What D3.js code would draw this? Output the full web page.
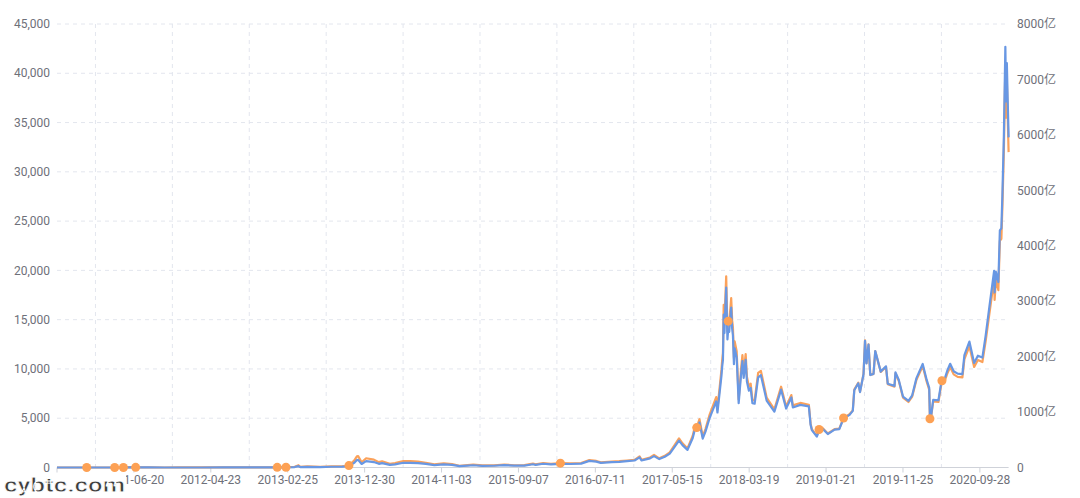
<!DOCTYPE html>
<html><head><meta charset="utf-8">
<script src="https://cdn.jsdelivr.net/npm/d3@7/dist/d3.min.js"></script>
<style>body{margin:0;background:#fff}svg{display:block}text{font-family:Roboto,"Noto Sans CJK SC",sans-serif}</style>
</head><body><svg id="c" width="1080" height="498"></svg>
<script>
// ---- data ----
const dates = ["2010-08-16","2010-10-15","2010-12-13","2011-02-14","2011-04-04","2011-05-09","2011-06-08","2011-06-27","2011-08-15","2011-10-20","2011-12-15","2012-03-15","2012-06-15","2012-08-16","2012-10-15","2012-12-15","2013-01-14","2013-02-18","2013-03-25","2013-04-09","2013-04-16","2013-05-15","2013-07-05","2013-08-20","2013-10-01","2013-10-28","2013-11-18","2013-11-29","2013-12-04","2013-12-18","2014-01-05","2014-02-05","2014-02-25","2014-03-10","2014-04-10","2014-05-01","2014-06-03","2014-07-01","2014-08-01","2014-09-01","2014-10-05","2014-11-12","2014-12-15","2015-01-14","2015-02-15","2015-03-10","2015-04-15","2015-06-01","2015-07-12","2015-08-20","2015-10-01","2015-11-04","2015-11-15","2015-12-15","2016-01-15","2016-02-22","2016-04-01","2016-05-15","2016-06-17","2016-07-15","2016-08-02","2016-09-15","2016-10-15","2016-11-15","2016-12-15","2017-01-04","2017-01-12","2017-02-15","2017-03-03","2017-03-24","2017-04-15","2017-05-05","2017-05-25","2017-06-11","2017-06-25","2017-07-15","2017-08-05","2017-08-15","2017-08-21","2017-09-01","2017-09-14","2017-09-25","2017-10-12","2017-10-21","2017-11-07","2017-11-12","2017-11-28",
"2017-12-01","2017-12-04","2017-12-07","2017-12-10","2017-12-13","2017-12-17","2017-12-22","2017-12-25","2017-12-29","2018-01-06","2018-01-10","2018-01-13","2018-01-17","2018-01-20","2018-01-28","2018-02-05","2018-02-10","2018-02-15","2018-02-20","2018-02-25","2018-03-05","2018-03-10","2018-03-18","2018-03-25",
"2018-04-01","2018-04-10","2018-04-24","2018-05-05","2018-05-28","2018-06-28","2018-07-25","2018-08-14","2018-09-04","2018-09-10","2018-10-10","2018-11-13","2018-11-20","2018-11-25","2018-12-15","2018-12-24","2019-01-07","2019-01-28","2019-02-24","2019-03-15","2019-04-01","2019-04-25","2019-05-08","2019-05-14","2019-05-30","2019-06-06","2019-06-20","2019-06-26","2019-07-02","2019-07-10","2019-07-17","2019-07-30","2019-08-06","2019-08-28","2019-09-18","2019-09-25","2019-10-22","2019-10-26","2019-11-08","2019-11-25","2019-12-17","2020-01-01","2020-01-18","2020-02-12","2020-02-28","2020-03-09","2020-03-12","2020-03-16","2020-03-25","2020-04-15","2020-04-29","2020-05-10","2020-05-20","2020-06-01","2020-06-15","2020-07-01","2020-07-20","2020-07-28","2020-08-17","2020-09-05","2020-09-20","2020-10-08","2020-10-21","2020-11-05","2020-11-24","2020-11-26","2020-12-01","2020-12-11","2020-12-17","2020-12-23","2020-12-27","2021-01-02","2021-01-08","2021-01-11","2021-01-14","2021-01-17","2021-01-21"];
// price, USD (left axis)
const price = [0.07,0.1,0.25,1.0,0.78,3.8,29.6,16.8,11,2.5,3.2,5,6.5,13.5,11.5,13.5,14.5,26,75,230,70,115,70,120,128,195,700,1130,1150,530,940,800,540,630,380,450,660,640,590,480,320,420,350,180,250,290,220,225,305,230,238,400,320,455,375,440,415,455,760,665,520,610,640,710,780,1130,780,1010,1270,930,1180,1530,2300,2960,2450,1930,3230,4300,4050,4900,3150,3900,5400,6000,7150,5950,9900,
10900,11600,16500,14500,16800,19400,13800,14850,14600,17200,14900,14200,11100,12800,11800,6900,8500,10100,11400,9600,11500,9200,8200,8500,
6850,6800,9600,9800,7100,5900,8200,6200,7350,6300,6550,6370,4450,3900,3200,3850,4000,3450,3900,3950,5020,5400,5800,7900,8600,7700,9500,12900,10600,12500,9400,9500,11800,9700,10200,8450,8200,9550,8800,7100,6650,7200,8900,10300,8700,7900,4950,5000,6700,6650,8800,8750,9500,10200,9450,9200,9150,11000,12300,10200,10900,10700,12800,15600,19100,17000,19000,18000,23000,23200,26300,32100,40800,35500,39200,36000,32000];
// market cap, 亿 (right axis)
const cap = [0.003,0.004,0.012,0.05,0.045,0.23,1.9,1.1,0.75,0.19,0.26,0.43,0.6,1.3,1.16,1.43,1.55,2.8,8.2,25.4,7.7,12.8,7.9,13.8,14.9,22.9,83,134,138,64,114,98,66.5,78,47.5,57,85,83,77.5,64,43,57,47.6,24.6,34.5,40.3,30.8,31.8,43.5,33,34.6,58.6,47,67.8,56.2,66.5,63.5,70.4,119,105,82.5,97.5,102.8,114.7,126,182.5,126,164,206,151.5,193,250.6,377,486,403,318,533,711,670,812,522,647,898,998,1192,992,1653,
1824,1942,2758,2425,2812,3246,2310,2487,2446,2885,2500,2383,1864,2150,1983,1161,1431,1700,1920,1617,1940,1553,1385,1436,
1159,1151,1627,1664,1208,1008,1404,1064,1263,1083,1130,1102,770,675,557,671,698,603,683,693,882,950,1022,1393,1519,1361,1681,2284,1878,2217,1668,1687,2099,1730,1824,1512,1472,1715,1583,1279,1201,1302,1612,1868,1580,1436,900,910,1220,1213,1607,1600,1741,1871,1736,1693,1686,2028,2271,1886,2017,1983,2374,2895,3548,3158,3531,3346,4276,4314,4891,5970,7590,6605,7294,6700,5955];
const eventDates = ["2010-12-13","2011-04-04","2011-05-09","2011-06-27","2013-01-14","2013-02-18","2013-10-28","2016-02-22","2017-08-21","2017-12-25","2018-12-24","2019-04-01","2020-03-12","2020-04-29"];
const labelDates = ["2010-08-16","2011-06-20","2012-04-23","2013-02-25","2013-12-30","2014-11-03","2015-09-07","2016-07-11","2017-05-15","2018-03-19","2019-01-21","2019-11-25","2020-09-28"];
const leftTicks = [0,5000,10000,15000,20000,25000,30000,35000,40000,45000];
const rightTicks = [0,1000,2000,3000,4000,5000,6000,7000,8000];

// ---- chart ----
const P = d3.utcParse("%Y-%m-%d");
const svg = d3.select("#c");
const L = 57, R = 1008.6, T = 24, B = 467.5;
const x = d3.scaleUtc().domain([P("2010-08-16"), P("2021-01-21")]).range([L, R]);
const yL = d3.scaleLinear().domain([0,45000]).range([B,T]);
const yR = d3.scaleLinear().domain([0,8000]).range([B,T]);
const grid = "#e3e6ee";

svg.append("g").selectAll("line").data(leftTicks.filter(d=>d>0)).join("line")
  .attr("x1",L).attr("x2",R).attr("y1",d=>yL(d)).attr("y2",d=>yL(d))
  .attr("stroke",grid).attr("stroke-dasharray","4,4");
const lx = labelDates.map(d=>x(P(d)));
const half = (lx[1]-lx[0])/2;
svg.append("g").selectAll("line").data(lx.map(v=>v+half).filter(v=>v<R-2)).join("line")
  .attr("x1",d=>d).attr("x2",d=>d).attr("y1",T).attr("y2",B)
  .attr("stroke",grid).attr("stroke-dasharray","4,4");

svg.append("line").attr("x1",L).attr("x2",R).attr("y1",B).attr("y2",B).attr("stroke","#cfd2d9");
svg.append("g").selectAll("line").data(lx).join("line")
  .attr("x1",d=>d).attr("x2",d=>d).attr("y1",B).attr("y2",B+5).attr("stroke","#cfd2d9");

svg.append("g").selectAll("text").data(leftTicks).join("text")
  .attr("x",50).attr("y",d=>yL(d)).attr("dy","0.35em").attr("text-anchor","end")
  .attr("font-size",12).attr("fill","#6e7079").text(d=>d3.format(",")(d));
svg.append("g").selectAll("text").data(rightTicks).join("text")
  .attr("x",1017).attr("y",d=>yR(d)).attr("dy","0.35em").attr("text-anchor","start")
  .attr("font-size",12).attr("fill","#6e7079").text(d=>d===0?"0":d+"亿");
// first label (at the axis start) sits under the watermark in the reference and is not visible
svg.append("g").selectAll("text").data(labelDates.slice(1)).join("text")
  .attr("x",d=>x(P(d))).attr("y",480).attr("dy","0.35em").attr("text-anchor","middle")
  .attr("font-size",12).attr("fill","#6e7079").text(d=>d);

const idx = d3.range(dates.length);
const linePrice = d3.line().x(i=>x(P(dates[i]))).y(i=>yL(price[i]));
const lineCap = d3.line().x(i=>x(P(dates[i]))).y(i=>yR(cap[i]));
svg.append("path").attr("d",linePrice(idx)).attr("fill","none").attr("stroke","#fba15a").attr("stroke-width",2.2).attr("stroke-linejoin","round");
svg.append("path").attr("d",lineCap(idx)).attr("fill","none").attr("stroke","#6897e3").attr("stroke-width",2.2).attr("stroke-linejoin","round");

svg.append("g").selectAll("circle").data(eventDates).join("circle")
  .attr("cx",d=>x(P(d))).attr("cy",d=>yL(price[dates.indexOf(d)])).attr("r",4.5)
  .attr("fill","#fda154");

// watermark
svg.append("rect").attr("x",0).attr("y",475).attr("width",126).attr("height",23).attr("fill","#fff");
svg.append("text").attr("x",4).attr("y",492).attr("font-family","DejaVu Sans").attr("font-weight","bold")
  .attr("font-size",21).attr("fill","#3d3d3d").attr("stroke","#fff").attr("stroke-width",0.8)
  .attr("textLength",121).attr("lengthAdjust","spacingAndGlyphs").text("cybtc.com");
</script></body></html>
